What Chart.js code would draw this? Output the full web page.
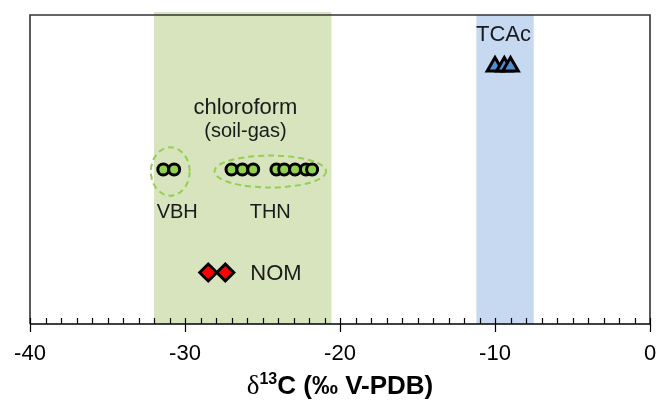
<!DOCTYPE html>
<html>
<head>
<meta charset="utf-8">
<script src="https://cdn.jsdelivr.net/npm/chart.js@4"></script>
<style>
  html, body { margin: 0; padding: 0; background: #fff; }
  #wrap { width: 662px; height: 403px; }
</style>
</head>
<body>
<div id="wrap"><canvas id="isoChart"></canvas></div>
<script>
// delta 13C values (per mil V-PDB)
const vbhValues = [-31.4, -30.7];
const thnValues = [-27.0, -26.3, -25.6, -24.1, -23.6, -22.9, -22.2, -21.8];
const nomValues = [-28.5, -27.4];
const tcacValues = [-10.0, -9.4, -9.0];

// rows on the hidden vertical axis
const rowTcac = 5;
const rowChloroform = 3;
const rowNom = 1;

// shaded ranges
const chloroformRange = [-32.0, -20.55];
const tcacRange = [-11.2, -7.5];

// x axis
const xMin = -40;
const xMax = 0;
const majorStep = 10;
const minorStep = 1;
const titleParts = ['δ', '13', 'C (‰ V-PDB)'];

const FONT = '"Liberation Sans", Arial, sans-serif';
const toPoints = (vals, row) => vals.map(v => ({ x: v, y: row }));

// shaded bands, frame, groupings, ticks and labels
const bandsPlugin = {
    id: 'bands',
    beforeDatasetsDraw(chart) {
        const { ctx, chartArea, scales } = chart;
        const x = scales.x;
        ctx.save();
        ctx.fillStyle = '#d7e4bd';
        let l = x.getPixelForValue(chloroformRange[0]);
        let r = x.getPixelForValue(chloroformRange[1]);
        ctx.fillRect(l, chartArea.top - 3, r - l, chartArea.bottom - chartArea.top + 3);
        ctx.fillStyle = '#c6d9f1';
        l = x.getPixelForValue(tcacRange[0]);
        r = x.getPixelForValue(tcacRange[1]);
        ctx.fillRect(l, chartArea.top, r - l, chartArea.bottom - chartArea.top);

        // frame on left, top and right
        ctx.strokeStyle = '#333';
        ctx.lineWidth = 1.6;
        ctx.beginPath();
        ctx.moveTo(chartArea.left, chartArea.bottom);
        ctx.lineTo(chartArea.left, chartArea.top);
        ctx.lineTo(chartArea.right, chartArea.top);
        ctx.lineTo(chartArea.right, chartArea.bottom);
        ctx.stroke();

        // dashed groupings around the soil-gas points
        const y = scales.y;
        ctx.strokeStyle = '#92d050';
        ctx.lineWidth = 2;
        ctx.setLineDash([6, 4]);
        const rings = [
            { x0: -32.2, x1: -29.7, h: 0.47 },
            { x0: -28.1, x1: -20.9, h: 0.31 }
        ];
        rings.forEach(g => {
            const a = x.getPixelForValue(g.x0);
            const b = x.getPixelForValue(g.x1);
            const cy = y.getPixelForValue(rowChloroform);
            const ry = Math.abs(y.getPixelForValue(rowChloroform + g.h) - cy);
            ctx.beginPath();
            ctx.ellipse((a + b) / 2, cy + 2, (b - a) / 2, ry, 0, 0, Math.PI * 2);
            ctx.stroke();
        });
        ctx.restore();
    },
    afterDraw(chart) {
        const { ctx, chartArea, scales } = chart;
        const x = scales.x;
        const y = scales.y;
        ctx.save();

        // axis ticks: minor inside, major crossing
        ctx.strokeStyle = '#000';
        ctx.lineWidth = 1.2;
        ctx.beginPath();
        for (let v = xMin; v <= xMax + 1e-9; v += minorStep) {
            const px = Math.round(x.getPixelForValue(v)) + 0.5;
            const major = Math.abs(v % majorStep) < 1e-9;
            ctx.moveTo(px, chartArea.bottom - 6);
            ctx.lineTo(px, chartArea.bottom + (major ? 8 : 0));
        }
        ctx.stroke();
        ctx.lineWidth = 1.5;
        ctx.beginPath();
        ctx.moveTo(chartArea.left, chartArea.bottom);
        ctx.lineTo(chartArea.right, chartArea.bottom);
        ctx.stroke();

        // group labels
        ctx.fillStyle = '#1a1a1a';
        ctx.textAlign = 'center';
        ctx.textBaseline = 'middle';
        const labels = [
            { t: 'TCAc', x: -9.45, y: rowTcac, dy: -32, size: 22 },
            { t: 'chloroform', x: -26.1, y: rowChloroform, dy: -62, size: 22 },
            { t: '(soil-gas)', x: -26.1, y: rowChloroform, dy: -38, size: 20 },
            { t: 'VBH', x: -30.5, y: rowChloroform, dy: 43, size: 20 },
            { t: 'THN', x: -24.5, y: rowChloroform, dy: 43, size: 20 },
        ];
        labels.forEach(l => {
            ctx.font = l.size + 'px ' + FONT;
            ctx.fillText(l.t, x.getPixelForValue(l.x), y.getPixelForValue(l.y) + l.dy);
        });
        ctx.textAlign = 'left';
        ctx.font = '22px ' + FONT;
        ctx.fillText('NOM', x.getPixelForValue(nomValues[nomValues.length - 1]) + 25, y.getPixelForValue(rowNom) + 1);

        // axis title with a real superscript
        ctx.fillStyle = '#000';
        ctx.textBaseline = 'alphabetic';
        const fDelta = '27px "Liberation Serif", serif';
        const fSup = 'bold 16px ' + FONT;
        const fMain = 'bold 26px ' + FONT;
        ctx.font = fDelta; const w0 = ctx.measureText(titleParts[0]).width;
        ctx.font = fSup; const w1 = ctx.measureText(titleParts[1]).width;
        ctx.font = fMain; const w2 = ctx.measureText(titleParts[2]).width;
        let tx = (chartArea.left + chartArea.right) / 2 - (w0 + w1 + w2) / 2;
        const base = chartArea.bottom + 70;
        ctx.font = fDelta; ctx.fillText(titleParts[0], tx, base); tx += w0;
        ctx.font = fSup; ctx.fillText(titleParts[1], tx, base - 10); tx += w1;
        ctx.font = fMain; ctx.fillText(titleParts[2], tx, base);
        ctx.restore();
    }
};

new Chart(document.getElementById('isoChart'), {
    type: 'scatter',
    data: {
        datasets: [
            {
                label: 'NOM',
                data: toPoints(nomValues, rowNom),
                pointStyle: 'rectRot',
                pointRadius: 8.5,
                backgroundColor: '#ff0000',
                borderColor: '#000',
                borderWidth: 3
            },
            {
                label: 'VBH',
                data: toPoints(vbhValues, rowChloroform),
                pointStyle: 'circle',
                pointRadius: 5.5,
                backgroundColor: '#92d050',
                borderColor: '#000',
                borderWidth: 3
            },
            {
                label: 'THN',
                data: toPoints(thnValues, rowChloroform),
                pointStyle: 'circle',
                pointRadius: 5.5,
                backgroundColor: '#92d050',
                borderColor: '#000',
                borderWidth: 3
            },
            {
                label: 'TCAc',
                data: toPoints(tcacValues, rowTcac),
                pointStyle: 'triangle',
                pointRadius: 9,
                backgroundColor: '#4f8fd0',
                borderColor: '#000',
                borderWidth: 3
            }
        ]
    },
    options: {
        responsive: true,
        maintainAspectRatio: false,
        animation: false,
        layout: { padding: { left: 30, right: 8, top: 15, bottom: 0 } },
        plugins: {
            legend: { display: false },
            tooltip: { enabled: false }
        },
        scales: {
            x: {
                type: 'linear',
                min: xMin,
                max: xMax,
                afterFit: scale => {
                    scale.height = 79;
                    scale.paddingLeft = 0;
                    scale.paddingRight = 0;
                },
                ticks: {
                    stepSize: majorStep,
                    padding: 17,
                    color: '#000',
                    font: { size: 22, family: FONT }
                },
                grid: { display: false, drawTicks: false },
                border: { display: false }
            },
            y: {
                display: false,
                min: 0,
                max: 6
            }
        }
    },
    plugins: [bandsPlugin]
});
</script>
</body>
</html>
